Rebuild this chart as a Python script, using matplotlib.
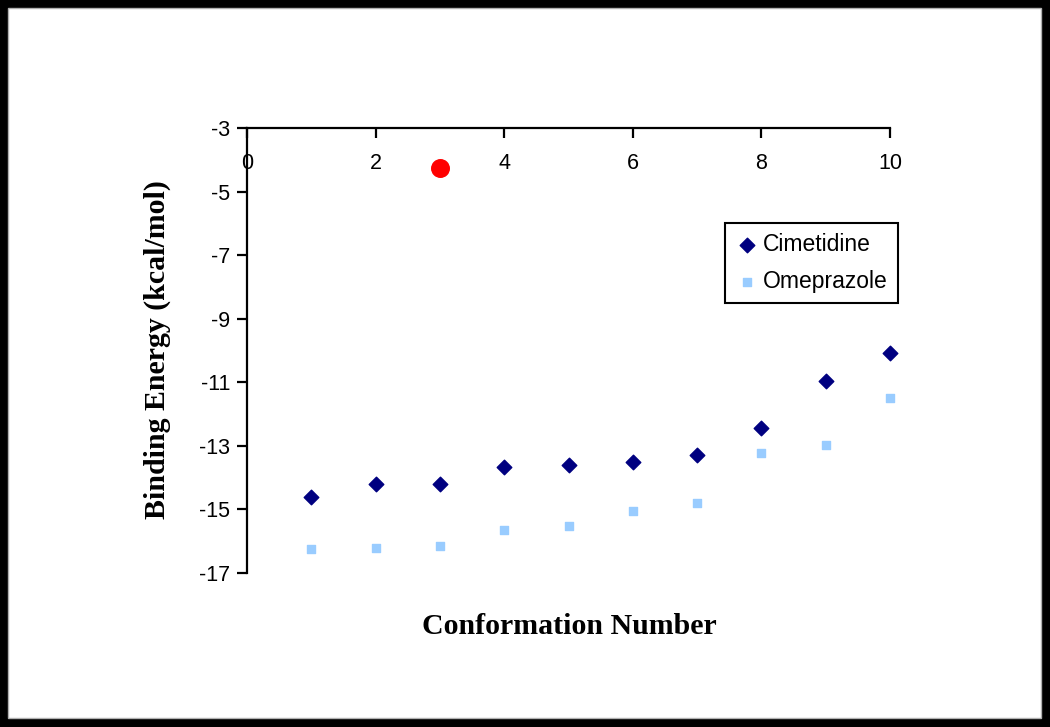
import numpy as np
import matplotlib
matplotlib.use("Agg")
import matplotlib.pyplot as plt
from matplotlib.patches import Rectangle

plt.rcParams["axes.unicode_minus"] = False

# -- data --
conformation = [1, 2, 3, 4, 5, 6, 7, 8, 9, 10]
cimetidine = [-14.60, -14.20, -14.21, -13.67, -13.61, -13.50, -13.29, -12.45, -10.95, -10.08]
omeprazole = [-16.25, -16.20, -16.15, -15.66, -15.52, -15.04, -14.79, -13.21, -12.97, -11.51]
red_point_x = [3]
red_point_y = [-4.26]

x_ticks = [0, 2, 4, 6, 8, 10]
y_ticks = [-3, -5, -7, -9, -11, -13, -15, -17]

fig = plt.figure(figsize=(10.5, 7.27), dpi=100)
fig.patch.set_facecolor("black")

# white page inside the black frame
W, H = 1050, 727
fig.patches.append(Rectangle((8 / W, 9 / H), (W - 17) / W, (H - 17) / H,
                             transform=fig.transFigure, facecolor="white",
                             edgecolor="#b0b0b0", linewidth=1, zorder=-10))

ax = fig.add_axes([247 / W, 1 - 573 / H, (890 - 247) / W, (573 - 128) / H])
ax.set_facecolor("none")
ax.set_zorder(5)

ax.scatter(conformation, cimetidine, marker="D", s=55, color="#000080",
           label="Cimetidine", zorder=3, clip_on=False)
ax.scatter(conformation, omeprazole, marker="s", s=30, color="#99ccff",
           label="Omeprazole", zorder=3, clip_on=False)
ax.scatter(red_point_x, red_point_y, marker="o", s=160, color="#ff0000", zorder=4,
           clip_on=False)

ax.set_xlim(0, 10)
ax.set_ylim(-17, -3)

# x axis sits on top (y = -3), y axis on x = 0
ax.spines["right"].set_visible(False)
ax.spines["bottom"].set_visible(False)
ax.spines["top"].set_linewidth(1.6)
ax.spines["left"].set_linewidth(1.6)

ax.xaxis.set_ticks_position("top")
ax.set_xticks(x_ticks)
ax.set_yticks(y_ticks)
ax.tick_params(axis="x", direction="in", length=7, width=1.6, top=True,
               labeltop=True, labelbottom=False, pad=-33, labelsize=15.5)
ax.tick_params(axis="y", direction="out", length=7, width=1.6, labelsize=15.5, pad=5)
for lab in ax.get_xticklabels() + ax.get_yticklabels():
    lab.set_family("Liberation Sans")

fig.text(569 / W, 1 - 627 / H, "Conformation Number", ha="center", va="center",
         family="Liberation Serif", fontweight="bold", fontsize=21.5)
fig.text(157 / W, 1 - 350 / H, "Binding Energy (kcal/mol)", ha="center", va="center",
         rotation=90, family="Liberation Serif", fontweight="bold", fontsize=21.5)

leg = ax.legend(loc="upper left", bbox_to_anchor=((725 - 247) / (890 - 247), (573 - 223) / (573 - 128)),
                frameon=True, fancybox=False, edgecolor="black", framealpha=1,
                prop={"family": "Liberation Sans", "size": 16.5}, handletextpad=0.2,
                handlelength=1.0, borderpad=0.45, labelspacing=0.6, borderaxespad=0)
leg.get_frame().set_linewidth(1.5)

fig.savefig("out.png", dpi=100, facecolor=fig.get_facecolor())
